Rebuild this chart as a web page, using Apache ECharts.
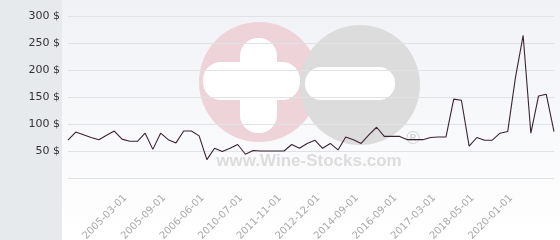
<!DOCTYPE html>
<html><head><meta charset="utf-8">
<script src="https://cdn.jsdelivr.net/npm/echarts@6/dist/echarts.min.js"></script>
<style>html,body{margin:0;padding:0;background:#fff;}#c{width:560px;height:240px;}</style>
</head><body><div id="c"></div>
<script>
const categories = [
  '2004-06-01','2004-08-01','2004-09-01','2004-10-01','2004-11-01','2005-01-01','2005-02-01','2005-03-01',
  '2005-04-01','2005-05-01','2005-06-01','2005-07-01','2005-09-01','2005-10-01','2005-11-01','2006-01-01',
  '2006-03-01','2006-06-01','2007-01-01','2008-01-01','2009-01-01','2009-09-01','2010-07-01','2010-10-01',
  '2011-01-01','2011-04-01','2011-07-01','2011-11-01','2012-01-01','2012-04-01','2012-07-01','2012-10-01',
  '2012-12-01','2013-03-01','2013-07-01','2013-11-01','2014-03-01','2014-09-01','2015-01-01','2015-05-01',
  '2015-09-01','2016-01-01','2016-09-01','2016-10-01','2016-11-01','2016-12-01','2017-01-01','2017-03-01',
  '2017-06-01','2017-09-01','2017-11-01','2018-01-01','2018-05-01','2018-09-01','2019-01-01','2019-05-01',
  '2019-09-01','2020-01-01','2020-05-01','2020-09-01','2021-01-01','2021-05-01','2021-09-01','2022-01-01'
];
const prices = [
  70, 85, 80, 75, 71, 79, 87, 72,
  68, 68, 83, 53, 83, 71, 65, 87,
  87, 78, 34, 55, 49, 55, 62, 44,
  51, 50, 50, 50, 50, 62, 55, 64,
  70, 55, 64, 52, 76, 71, 64, 80,
  94, 77, 77, 77, 71, 71, 71, 75,
  76, 76, 146, 144, 59, 75, 70, 70,
  83, 86, 186, 264, 83, 152, 155, 86
];
const xTickLabels = ['2005-03-01','2005-09-01','2006-06-01','2010-07-01','2011-11-01','2012-12-01',
  '2014-09-01','2016-09-01','2017-03-01','2018-05-01','2020-01-01'];
const yTicks = [0, 50, 100, 150, 200, 250, 300];

const chart = echarts.init(document.getElementById('c'), null, {renderer: 'canvas'});
chart.setOption({
  animation: false,
  backgroundColor: {
    type: 'linear', x: 0, y: 0, x2: 0, y2: 1,
    colorStops: [{offset: 0, color: '#f1f2f6'}, {offset: 1, color: '#ffffff'}]
  },
  graphic: {
    elements: [
      {type: 'rect', left: 0, top: 0, z: -100, shape: {x: 0, y: 0, width: 62, height: 240}, style: {fill: '#e6eaed'}},
      {type: 'circle', z: -50, shape: {cx: 259, cy: 82, r: 60}, style: {fill: '#eed3d9'}},
      {type: 'rect', z: -49, shape: {x: 240, y: 38, width: 37, height: 95, r: 18}, style: {fill: '#ffffff'}},
      {type: 'rect', z: -49, shape: {x: 203, y: 62, width: 97, height: 38, r: 18}, style: {fill: '#ffffff'}},
      {type: 'circle', z: -48, shape: {cx: 360, cy: 85, r: 60}, style: {fill: '#dcdcdc'}},
      {type: 'rect', z: -47, shape: {x: 305, y: 67, width: 90, height: 33, r: 16}, style: {fill: '#ffffff'}},
      {type: 'text', z: -46, style: {x: 309, y: 161, text: 'www.Wine-Stocks.com', textAlign: 'center', textVerticalAlign: 'middle',
        font: 'bold 17px "Liberation Sans", Arial, sans-serif', fill: '#dcdcdc'}},
      {type: 'text', z: -46, style: {x: 413, y: 139, text: '®', textAlign: 'center', textVerticalAlign: 'middle',
        font: '18px "DejaVu Sans", sans-serif', fill: '#d2d2d2'}}
    ]
  },
  grid: {left: 68, right: 6, top: 16, bottom: 62, containLabel: false, outerBoundsMode: 'none'},
  xAxis: {
    type: 'category',
    data: categories,
    boundaryGap: false,
    axisLine: {show: false},
    axisTick: {show: false},
    axisLabel: {
      rotate: 45,
      interval: (idx, val) => xTickLabels.includes(val),
      color: '#a8a8a8',
      fontSize: 10,
      fontFamily: '"DejaVu Sans", sans-serif',
      verticalAlign: 'top',
      margin: 15
    },
    splitLine: {show: false}
  },
  yAxis: {
    type: 'value',
    min: yTicks[0],
    max: yTicks[yTicks.length - 1],
    interval: 50,
    axisLine: {show: false},
    axisTick: {show: false},
    axisLabel: {
      formatter: v => (v === 0 ? '' : v + ' $'),
      color: '#333333',
      fontSize: 11,
      fontFamily: '"DejaVu Sans", sans-serif',
      margin: 8
    },
    splitLine: {lineStyle: {color: '#e1e2e6', width: 1}}
  },
  series: [{
    type: 'line',
    data: prices,
    showSymbol: false,
    symbol: 'none',
    lineStyle: {color: '#3a2330', width: 1.1},
    z: 5
  }]
});
</script>
</body></html>
